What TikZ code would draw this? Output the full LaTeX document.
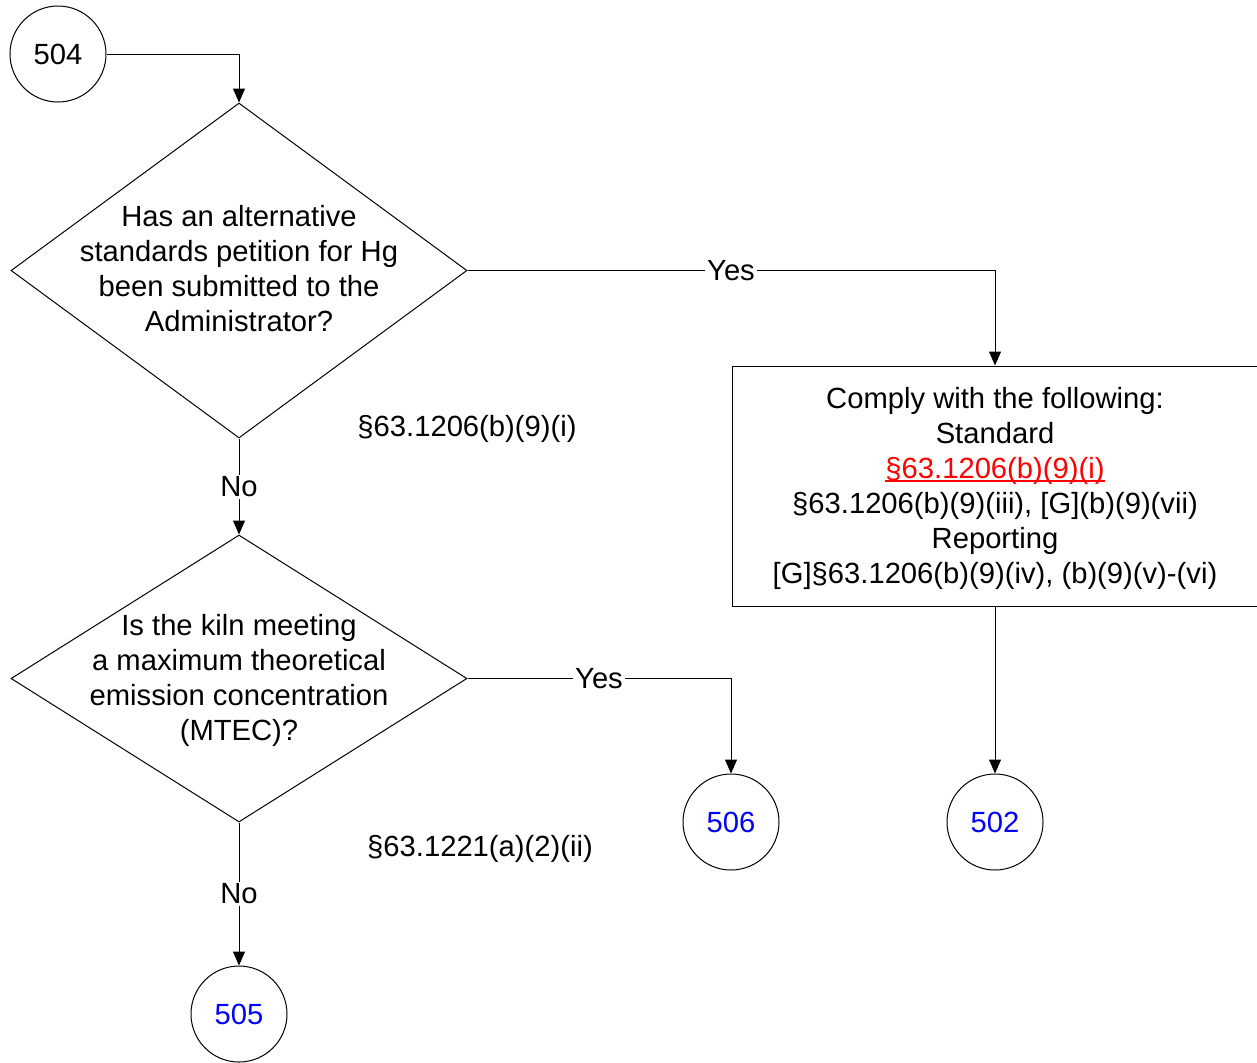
\documentclass[tikz,border=0pt]{standalone}
\usepackage{fontspec}
\setmainfont{Liberation Sans}
\usetikzlibrary{shapes.geometric,arrows.meta}
\definecolor{numblue}{RGB}{0,0,255}
\definecolor{refred}{RGB}{255,0,0}
\newcommand{\redul}[1]{{\color{refred}\setbox0\hbox{#1}\rlap{\copy0}\rule[-1.8pt]{\wd0}{0.7pt}}}
\begin{document}
\begin{tikzpicture}[x=0.5pt,y=-0.5pt,
  every node/.style={font=\fontsize{14.6}{17.5}\selectfont},
  conn/.style={draw=black,line width=0.5pt},
  arr/.style={conn,-{Triangle[length=7pt,width=6pt]}},
  term/.style={circle,draw=black,line width=0.5pt,minimum size=48pt,inner sep=0pt},
  dia/.style={diamond,draw=black,line width=0.5pt,minimum width=228pt,inner sep=0pt},
  boxst/.style={rectangle,draw=black,line width=0.5pt,inner sep=0pt},
  lbl/.style={fill=white,inner sep=1pt}]
\useasboundingbox (0,0) rectangle (1257,1062);
% terminals
\node[term] (c504) at (58,54) {504};
\node[term,text=numblue] (c506) at (731,822) {506};
\node[term,text=numblue] (c502) at (995,822) {502};
\node[term,text=numblue] (c505) at (239,1014) {505};
% decisions
\node[dia,minimum height=167.5pt] (d1) at (239,270.5) {};
\node[align=center] (t1) at (239,269) {Has an alternative\\standards petition for Hg\\been submitted to the\\Administrator?};
\node[dia,minimum height=143.5pt] (d2) at (239,678.5) {};
\node[align=center] (t2) at (239,680) {Is the kiln meeting\\a maximum theoretical\\emission concentration\\(MTEC)?};
% box
\node[boxst,minimum width=262.5pt,minimum height=120pt] (bx) at (994.75,486) {};
\node[align=center] (tb) at (995,488) {Comply with the following:\\Standard\\\redul{§63.1206(b)(9)(i)}\\§63.1206(b)(9)(iii), [G](b)(9)(vii)\\Reporting\\{}[G]§63.1206(b)(9)(iv), (b)(9)(v)-(vi)};
% side references
\node (r1) at (467,429) {§63.1206(b)(9)(i)};
\node (r2) at (480,849) {§63.1221(a)(2)(ii)};
% connectors
\coordinate (k1) at (239,54);
\draw[arr] (c504.east) -- (k1) -- (d1.north);
\coordinate (k2) at (995,270.5);
\draw[arr] (d1.east) -- (k2) -- (bx.north -| k2);
\node[lbl] (y1) at (731,271) {Yes};
\draw[arr] (d1.south) -- (d2.north);
\node[lbl] (n1) at (239,487) {No};
\coordinate (k3) at (731,678.5);
\draw[arr] (d2.east) -- (k3) -- (c506.north);
\node[lbl] (y2) at (599,679) {Yes};
\draw[arr] (bx.south -| c502) -- (c502.north);
\draw[arr] (d2.south) -- (c505.north);
\node[lbl] (n2) at (239,894) {No};
\end{tikzpicture}
\end{document}
